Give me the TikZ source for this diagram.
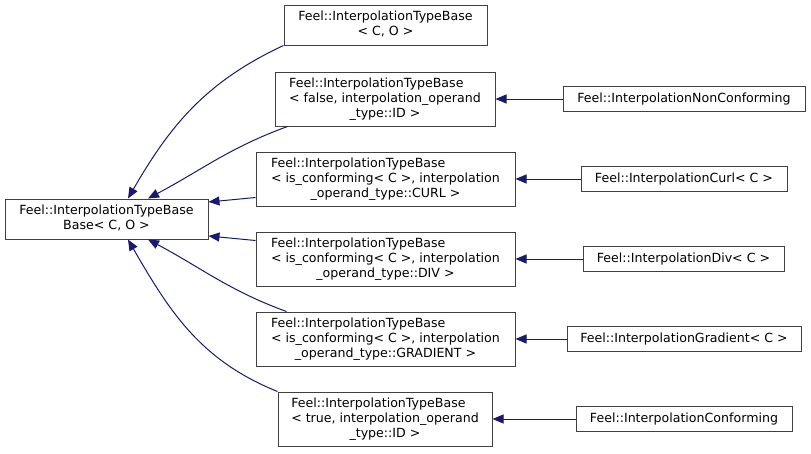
\documentclass[tikz,border=0pt]{standalone}
\usepackage{fontspec}
\setmainfont{DejaVu Sans}
\usetikzlibrary{arrows.meta}
\definecolor{edgeblue}{HTML}{191970}
\definecolor{boxgrey}{HTML}{404040}
\newcommand{\lastln}[1]{\multicolumn{1}{@{}c@{}}{#1}}

\begin{document}
\begin{tikzpicture}[x=1pt, y=-1pt,
  cls/.style={draw=boxgrey, line width=1pt, fill=white, inner sep=0pt,
    font=\fontsize{12.6}{15}\selectfont},
  inh/.style={{Triangle[length=11pt,width=9pt]}-, draw=edgeblue, line width=1pt}] % {{{
\useasboundingbox (0,0) rectangle (811,453);
% % Base class  {{{
\node[cls, minimum width=203pt, minimum height=40pt] (base) at (106.5,219)
  {\begin{tabular}{@{}l@{}}Feel::InterpolationTypeBase\\ \lastln{Base< C, O >}\end{tabular}};
% % }}}
% % Template instances  {{{
\node[cls, minimum width=203pt, minimum height=40pt] (tbco) at (385.5,25)
  {\begin{tabular}{@{}c@{}}Feel::InterpolationTypeBase\\ < C, O >\end{tabular}};
\node[cls, minimum width=220pt, minimum height=54pt] (tbfalse) at (385,99)
  {\begin{tabular}{@{}l@{}}Feel::InterpolationTypeBase\\ < false, interpolation\_operand\\ \lastln{\_type::ID >}\end{tabular}};
\node[cls, minimum width=259pt, minimum height=54pt] (tbcurl) at (385.5,179)
  {\begin{tabular}{@{}l@{}}Feel::InterpolationTypeBase\\ < is\_conforming< C >, interpolation\\ \lastln{\_operand\_type::CURL >}\end{tabular}};
\node[cls, minimum width=259pt, minimum height=54pt] (tbdiv) at (385.5,259)
  {\begin{tabular}{@{}l@{}}Feel::InterpolationTypeBase\\ < is\_conforming< C >, interpolation\\ \lastln{\_operand\_type::DIV >}\end{tabular}};
\node[cls, minimum width=259pt, minimum height=54pt] (tbgrad) at (385.5,339)
  {\begin{tabular}{@{}l@{}}Feel::InterpolationTypeBase\\ < is\_conforming< C >, interpolation\\ \lastln{\_operand\_type::GRADIENT >}\end{tabular}};
\node[cls, minimum width=214pt, minimum height=54pt] (tbtrue) at (385,419)
  {\begin{tabular}{@{}l@{}}Feel::InterpolationTypeBase\\ < true, interpolation\_operand\\ \lastln{\_type::ID >}\end{tabular}};
% % }}}
% % Derived classes  {{{
\node[cls, minimum width=242pt, minimum height=25pt] (noncon) at (684,99) {Feel::InterpolationNonConforming};
\node[cls, minimum width=206pt, minimum height=25pt] (curl) at (684,179) {Feel::InterpolationCurl< C >};
\node[cls, minimum width=201pt, minimum height=25pt] (div) at (683.5,259) {Feel::InterpolationDiv< C >};
\node[cls, minimum width=234pt, minimum height=25pt] (grad) at (684,339) {Feel::InterpolationGradient< C >};
\node[cls, minimum width=216pt, minimum height=25pt] (conf) at (684,419) {Feel::InterpolationConforming};
% % }}}
% % Inheritance  {{{
\draw[inh] ([xshift=21.5pt]base.north) to[out=60, in=205] (tbco.south west);
\draw[inh] ([xshift=41.5pt]base.north) to[out=28, in=200] ([xshift=13pt]tbfalse.south west);
\draw[inh] ([yshift=17pt]base.east) -- ([yshift=9pt]tbcurl.south west);
\draw[inh] ([yshift=-17pt]base.east) -- ([yshift=-9pt]tbdiv.north west);
\draw[inh] ([xshift=41.5pt]base.south) to[out=-28, in=160] ([xshift=31pt]tbgrad.north west);
\draw[inh] ([xshift=21.5pt]base.south) to[out=-60, in=158] (tbtrue.north west);
\draw[inh] (tbfalse) -- (noncon);
\draw[inh] (tbcurl) -- (curl);
\draw[inh] (tbdiv) -- (div);
\draw[inh] (tbgrad) -- (grad);
\draw[inh] (tbtrue) -- (conf);
% % }}}
\end{tikzpicture} % }}}
\end{document}
